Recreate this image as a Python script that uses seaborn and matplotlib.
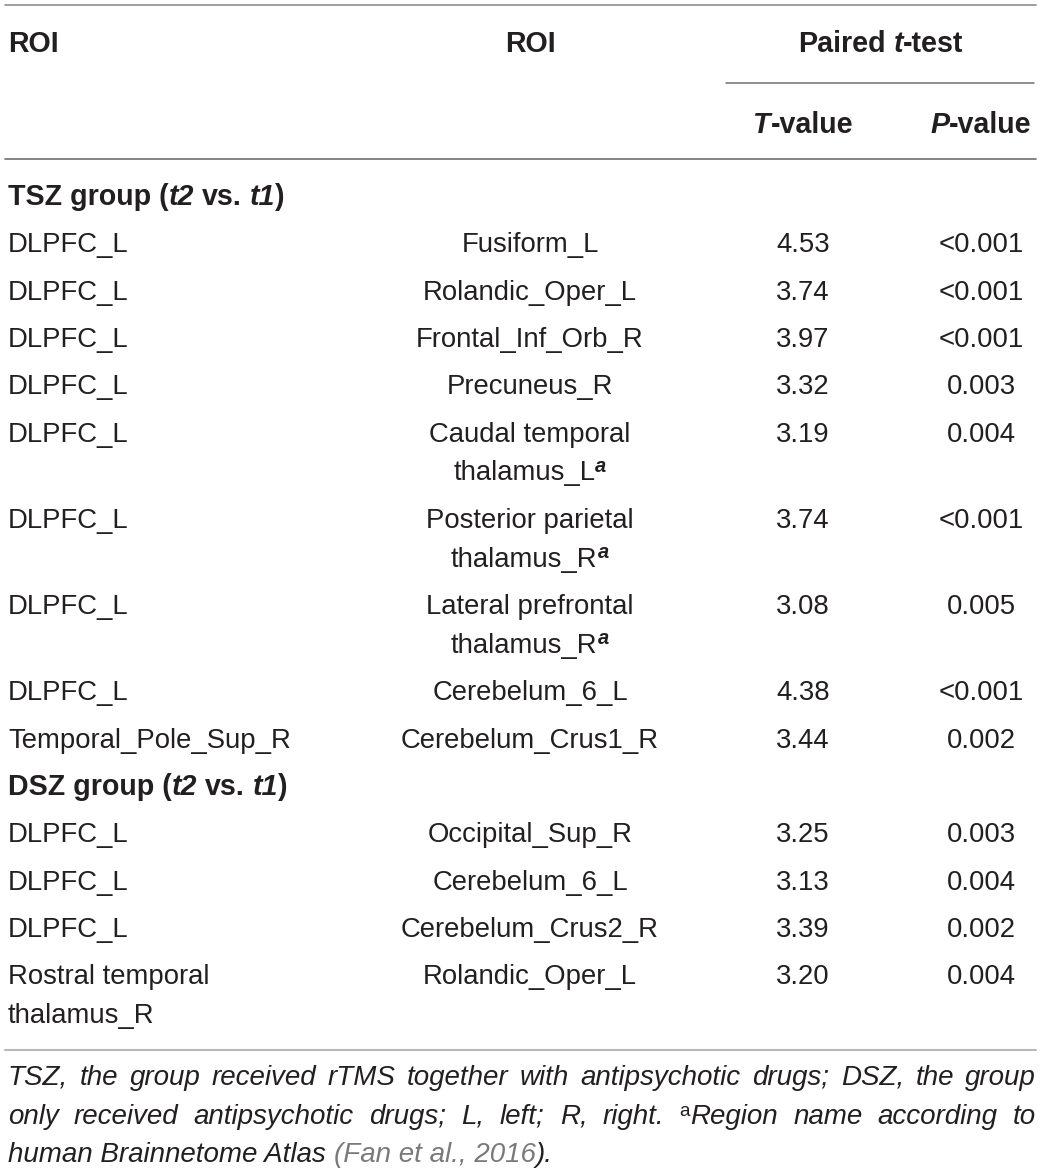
import matplotlib
matplotlib.use("Agg")
import matplotlib.pyplot as plt
from matplotlib import font_manager
import seaborn as sns

# table contents
group_names = ["TSZ group", "DSZ group"]
group_rows = [9, 4]
seed_roi = ["DLPFC_L", "DLPFC_L", "DLPFC_L", "DLPFC_L", "DLPFC_L", "DLPFC_L",
            "DLPFC_L", "DLPFC_L", "Temporal_Pole_Sup_R",
            "DLPFC_L", "DLPFC_L", "DLPFC_L", "Rostral temporal\nthalamus_R"]
target_roi = ["Fusiform_L", "Rolandic_Oper_L", "Frontal_Inf_Orb_R", "Precuneus_R",
              "Caudal temporal\nthalamus_L", "Posterior parietal\nthalamus_R",
              "Lateral prefrontal\nthalamus_R", "Cerebelum_6_L", "Cerebelum_Crus1_R",
              "Occipital_Sup_R", "Cerebelum_6_L", "Cerebelum_Crus2_R", "Rolandic_Oper_L"]
atlas_mark = [False, False, False, False, True, True, True, False, False,
              False, False, False, False]
t_values = [4.53, 3.74, 3.97, 3.32, 3.19, 3.74, 3.08, 4.38, 3.44,
            3.25, 3.13, 3.39, 3.20]
p_values = ["<0.001", "<0.001", "<0.001", "0.003", "0.004", "<0.001", "0.005",
            "<0.001", "0.002", "0.003", "0.004", "0.002", "0.004"]

foot_line1 = "TSZ, the group received rTMS together with antipsychotic drugs; DSZ, the group"
foot_line2 = "only received antipsychotic drugs; L, left; R, right. Region name according to"
foot_line3 = "human Brainnetome Atlas"
foot_cite = "(Fan et al., 2016"

sns.set_theme(style="white")
plt.rcParams["font.family"] = ["Liberation Sans", "DejaVu Sans"]

INK = "#231f20"
GREY = "#7a7a7a"
FS = 19.8      # body
FSB = 20.6     # bold header


def has_font(name):
    try:
        font_manager.findfont(font_manager.FontProperties(family=name),
                              fallback_to_default=False)
        return True
    except ValueError:
        return False


foot_family = ["Liberation Sans Narrow", "Liberation Sans"] if has_font("Liberation Sans Narrow") \
    else ["Liberation Sans"]

fig = plt.figure(figsize=(10.4, 11.73), dpi=100)
ax = fig.add_axes([0, 0, 1, 1])
ax.set_xlim(0, 1040)
ax.set_ylim(1173, 0)
ax.axis("off")
renderer = fig.canvas.get_renderer()


def props(size=FS, weight="normal", style="normal", color=INK, family=None):
    d = dict(fontsize=size, fontweight=weight, fontstyle=style, color=color)
    if family is not None:
        d["family"] = family
    return d


def adv(s, p):
    # advance width of s, spaces included (measured between two bars)
    t1 = ax.text(0, 0, "|" + s + "|", **p)
    t2 = ax.text(0, 0, "||", **p)
    w = t1.get_window_extent(renderer).width - t2.get_window_extent(renderer).width
    t1.remove()
    t2.remove()
    return w


def draw_segs(x, y, segs):
    for s, p, rise in segs:
        core = s.strip()
        lead = s[:len(s) - len(s.lstrip())]
        x0 = x + (adv(lead, p) if lead else 0)
        if core:
            ax.text(x0, y - rise, core, ha="left", va="baseline", **p)
        x += adv(s, p)
    return x


def run_width(segs):
    return sum(adv(s, p) for s, p, r in segs)


def draw_run(x, y, segs, ha="left"):
    if ha == "center":
        x -= run_width(segs) / 2
    return draw_segs(x, y, segs)


# column anchors
X1, X2, X3, X4 = 8, 530, 803, 981
LINE_GAP = 39
PITCH = 47.3

# rules
ax.plot([5, 1036], [5, 5], color="#8d8d8d", lw=1.2)
ax.plot([726, 1034], [83, 83], color="#6f6f6f", lw=1.1)
ax.plot([5, 1036], [158.5, 158.5], color="#6f6f6f", lw=1.2)
ax.plot([5, 1036], [1050, 1050], color="#b8b8b8", lw=1.5)

# header
bold = props(FSB, "bold")
boldit = props(FSB, "bold", "italic")
draw_run(X1, 52, [("ROI", bold, 0)])
draw_run(X2, 52, [("ROI", bold, 0)], "center")
draw_run(881, 52, [("Paired ", bold, 0), ("t", boldit, 0), ("-test", bold, 0)], "center")
draw_run(X3, 133, [("T", boldit, 0), ("-value", bold, 0)], "center")
draw_run(X4, 133, [("P", boldit, 0), ("-value", bold, 0)], "center")

# body
body = props()
sup_cell = props(14.5, "bold", "italic")
y = 205
row = 0
for g, name in enumerate(group_names):
    draw_run(X1, y, [(name + " (", bold, 0), ("t2", boldit, 0), (" vs. ", bold, 0),
                     ("t1", boldit, 0), (")", bold, 0)])
    y += PITCH
    for _ in range(group_rows[g]):
        lines1 = seed_roi[row].split("\n")
        lines2 = target_roi[row].split("\n")
        for k, ln in enumerate(lines1):
            draw_run(X1, y + k * LINE_GAP, [(ln, body, 0)])
        for k, ln in enumerate(lines2):
            segs = [(ln, body, 0)]
            if atlas_mark[row] and k == len(lines2) - 1:
                segs.append(("a", sup_cell, 9))
            draw_run(X2, y + k * LINE_GAP, segs, "center")
        draw_run(X3, y, [(f"{t_values[row]:.2f}", body, 0)], "center")
        draw_run(X4, y, [(p_values[row], body, 0)], "center")
        y += PITCH + LINE_GAP * (max(len(lines1), len(lines2)) - 1)
        row += 1

# footnote, first two lines justified to the table width
FOOT_L, FOOT_R = 8, 1036
foot_size = 20.0
words1 = foot_line1.split(" ")
words2 = foot_line2.split(" ")


def foot_words(words, size):
    it = props(size, style="italic", family=foot_family)
    sup = props(size * 0.68, family=foot_family)
    out = []
    for w in words:
        if w == "Region":
            out.append([("a", sup, 8), (w, it, 0)])
        else:
            out.append([(w, it, 0)])
    return out


# shrink the font if a line would not fit with normal spacing
for words in (words1, words2):
    ws = foot_words(words, foot_size)
    nat = sum(run_width(w) for w in ws)
    sp = adv(" ", props(foot_size, style="italic", family=foot_family))
    need = nat + sp * (len(ws) - 1)
    if need > FOOT_R - FOOT_L:
        foot_size *= (FOOT_R - FOOT_L) / need

for yy, words in ((1085, words1), (1123.5, words2)):
    ws = foot_words(words, foot_size)
    widths = [run_width(w) for w in ws]
    gap = (FOOT_R - FOOT_L - sum(widths)) / (len(ws) - 1)
    x = FOOT_L
    for w, wd in zip(ws, widths):
        draw_segs(x, yy, w)
        x += wd + gap

fit = props(foot_size, style="italic", family=foot_family)
git = props(foot_size, style="italic", color=GREY, family=foot_family)
draw_run(FOOT_L, 1162, [(foot_line3 + " ", fit, 0), (foot_cite, git, 0), (").", fit, 0)])

fig.savefig("out.png", dpi=100, facecolor="white")
